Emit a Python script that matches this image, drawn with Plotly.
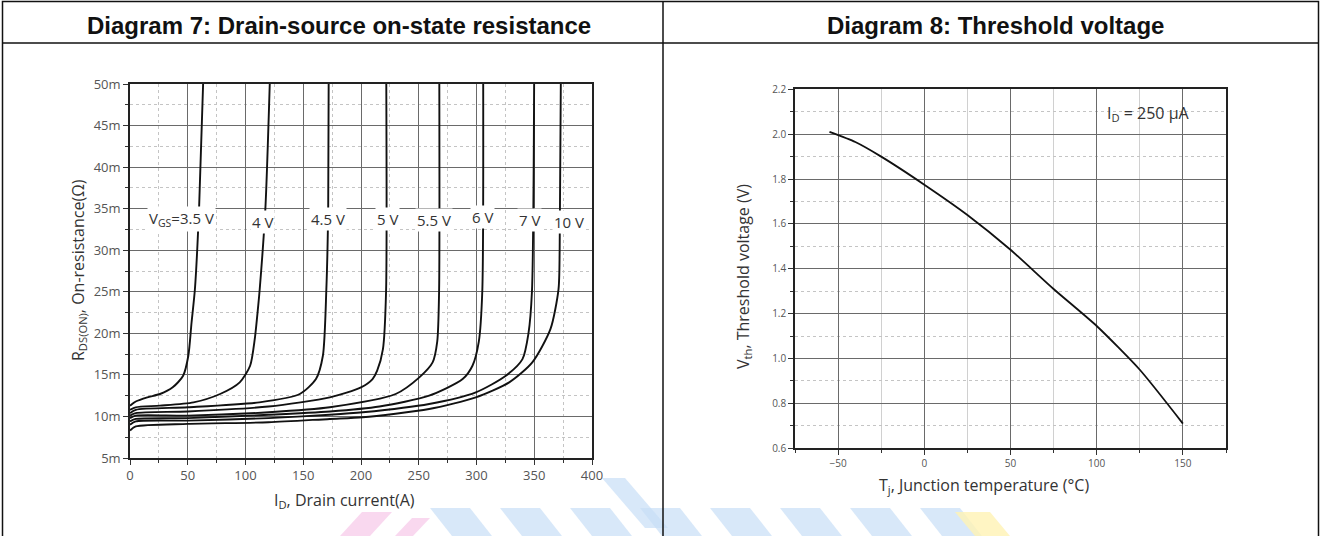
import plotly.graph_objects as go

W, H = 1320, 536

# ---------------- Diagram 7 data (I_D in A, R_DS(on) in mOhm) ----------------
I_35 = [0, 5, 15, 26, 37, 46, 50.5, 53.3, 56.2, 59.8, 63.3]
R_35 = [11.3, 11.8, 12.3, 12.7, 13.5, 14.9, 17.3, 21.3, 25.3, 35, 50]

I_40 = [0, 5, 26, 55, 78, 95, 104, 108, 111, 112.3, 117.2, 121]
R_40 = [10.8, 11.1, 11.3, 11.7, 12.7, 14.1, 16.1, 19.3, 23.3, 25.3, 35, 50]

I_45 = [0, 5, 50, 112, 147, 161, 167, 170, 171.6, 172]
R_45 = [10.4, 10.8, 11.1, 11.7, 12.7, 14.5, 17.3, 25.3, 35, 50]

I_50 = [0, 5, 50, 120, 173, 200, 210, 214, 219, 221.7, 221.9]
R_50 = [10.1, 10.4, 10.6, 11.2, 12.3, 13.5, 14.5, 15.5, 18.1, 25, 50]

I_55 = [0, 5, 50, 120, 173, 230, 250.5, 262, 266, 267.6, 267.8]
R_55 = [9.8, 10.1, 10.1, 10.5, 11.1, 12.7, 14.7, 16.5, 19, 25, 50]

I_60 = [0, 5, 50, 120, 173, 216, 259, 288, 296.5, 302, 305, 305.8]
R_60 = [9.4, 9.7, 9.8, 10.2, 10.6, 11.2, 12.5, 14.5, 16.1, 19, 25, 50]

I_70 = [0, 5, 50, 120, 173, 201.5, 259, 299.4, 325.4, 339.8, 345, 348, 349.9]
R_70 = [9.0, 9.4, 9.5, 9.8, 10.2, 10.5, 11.5, 12.9, 14.9, 16.9, 20, 25, 50]

I_100 = [0, 5, 50, 120, 173, 201.5, 259, 299.4, 328.3, 348.3, 364, 371, 372, 373]
R_100 = [8.3, 8.8, 9.1, 9.3, 9.7, 9.9, 10.9, 12.3, 14.1, 16.5, 20.5, 25.3, 30, 50]

vgs_labels = ["V<sub>GS</sub>=3.5 V", "4 V", "4.5 V", "5 V", "5.5 V", "6 V", "7 V", "10 V"]
label_I = [44.5, 115, 171, 222.9, 263.5, 305.2, 345.6, 380]
label_R = [33.7, 33.4, 33.8, 33.8, 33.6, 34.0, 33.6, 33.4]

# ---------------- Diagram 8 data ----------------
Tj = [-55, -40, -25, 0, 25, 50, 75, 100, 125, 150]
Vth = [2.01, 1.965, 1.90, 1.775, 1.64, 1.485, 1.31, 1.145, 0.95, 0.71]

FONT = "Open Sans"

fig = go.Figure()

curves = [(I_35, R_35), (I_40, R_40), (I_45, R_45), (I_50, R_50),
          (I_55, R_55), (I_60, R_60), (I_70, R_70), (I_100, R_100)]
for (ix, ry) in curves:
    fig.add_trace(go.Scatter(x=ix, y=ry, mode="lines", xaxis="x", yaxis="y",
                             line=dict(color="#111", width=1.9, shape="spline", smoothing=0.7),
                             showlegend=False, hoverinfo="skip"))

fig.add_trace(go.Scatter(x=Tj, y=Vth, mode="lines", xaxis="x2", yaxis="y2",
                         line=dict(color="#111", width=1.8, shape="spline", smoothing=0.6),
                         showlegend=False, hoverinfo="skip"))


def px(x):
    return x / W


def py(y):
    return 1 - y / H


major = "#6a6a6a"
minorc = "#c4c4c4"
tickf = dict(family=FONT, size=13, color="#555")
tickf2 = dict(family=FONT, size=10, color="#555")

common = dict(showgrid=True, gridcolor=major, gridwidth=1.3,
              ticks="outside", ticklen=5, tickcolor="#333",
              showline=True, linecolor="#222", linewidth=1.6, mirror=True,
              zeroline=False, automargin=False, fixedrange=True)

fig.update_layout(
    width=W, height=H,
    margin=dict(l=0, r=0, t=0, b=0, pad=0, autoexpand=False),
    paper_bgcolor="white", plot_bgcolor="white",
    showlegend=False,
    xaxis=dict(domain=[px(130), px(592)], range=[0, 400], tick0=0, dtick=50,
               minor=dict(dtick=25, showgrid=True, gridcolor=minorc, griddash="dot",
                          ticks="outside", ticklen=3, tickcolor="#333"),
               tickfont=tickf, anchor="y", **common),
    yaxis=dict(domain=[py(458), py(84)], range=[5, 50], tick0=5, dtick=5, ticksuffix="m",
               minor=dict(dtick=2.5, showgrid=True, gridcolor=minorc, griddash="dot",
                          ticks="outside", ticklen=3, tickcolor="#333"),
               tickfont=tickf, anchor="x", **common),
    xaxis2=dict(domain=[px(795), px(1226)], range=[-75, 175], tick0=-50, dtick=50,
                minor=dict(dtick=25, showgrid=True, gridcolor="#d0d0d0",
                           ticks="outside", ticklen=3, tickcolor="#333"),
                tickfont=tickf2, anchor="y2", **common),
    yaxis2=dict(domain=[py(448.3), py(89.3)], range=[0.6, 2.2], tick0=0.6, dtick=0.2,
                tickformat=".1f",
                minor=dict(dtick=0.1, showgrid=True, gridcolor=minorc, griddash="dot",
                           ticks="outside", ticklen=3, tickcolor="#333"),
                tickfont=tickf2, anchor="x2", **common),
)

ann = []


def pann(text, x, y, font, angle=0):
    return dict(text=text, x=px(x), y=py(y), xref="paper", yref="paper",
                xanchor="center", yanchor="middle", showarrow=False,
                textangle=angle, font=font)


# header titles
hf = dict(family="Liberation Sans", size=24, color="#111")
ann.append(pann("<b>Diagram 7: Drain-source on-state resistance</b>", 339, 25, hf))
ann.append(pann("<b>Diagram 8: Threshold voltage</b>", 995, 25, hf))
# axis titles
atf = dict(family=FONT, size=16, color="#333")
ann.append(pann("R<sub>DS(ON)</sub>, On-resistance(Ω)", 78, 270, atf, -90))
ann.append(pann("I<sub>D</sub>, Drain current(A)", 344, 500, atf))
ann.append(pann("V<sub>th</sub>, Threshold voltage (V)", 743, 277, atf, -90))
ann.append(pann("T<sub>j</sub>, Junction temperature (°C)", 984, 485, atf))
# curve labels
for t, xi, yi in zip(vgs_labels, label_I, label_R):
    ann.append(dict(text=t, x=xi, y=yi, xref="x", yref="y", showarrow=False,
                    xanchor="center", yanchor="middle",
                    bgcolor="white", borderpad=1,
                    font=dict(family=FONT, size=15, color="#333")))
ann.append(dict(text="I<sub>D</sub> = 250 µA", x=129.8, y=2.094, xref="x2", yref="y2",
                xanchor="center", yanchor="middle",
                showarrow=False, font=dict(family=FONT, size=16, color="#333")))

shapes = []


def poly(pts, color):
    d = "M " + " L ".join(f"{px(a):.5f},{py(b):.5f}" for a, b in pts) + " Z"
    return dict(type="path", xref="paper", yref="paper", path=d,
                fillcolor=color, line=dict(width=0), layer="below")


# faint watermark fragments at the bottom edge
pink = "rgba(247,200,232,0.7)"
blue = "rgba(200,222,247,0.7)"
yellow = "rgba(255,243,180,0.8)"
shapes.append(poly([(340, 536), (362, 512), (392, 512), (370, 536)], pink))
shapes.append(poly([(395, 536), (412, 518), (430, 518), (413, 536)], pink))
for x0 in [430, 500, 570, 640, 710, 780, 850, 920]:
    shapes.append(poly([(x0, 508), (x0 + 40, 508), (x0 + 62, 536), (x0 + 22, 536)], blue))
shapes.append(poly([(602, 478), (625, 478), (668, 528), (645, 528)], blue))
shapes.append(poly([(955, 512), (990, 512), (1010, 536), (975, 536)], yellow))

# table frame
shapes.append(dict(type="rect", xref="paper", yref="paper", x0=px(2.5), x1=px(1318.5),
                   y0=py(545), y1=py(1.5), line=dict(color="#111", width=1.5)))
shapes.append(dict(type="line", xref="paper", yref="paper", x0=px(2.5), x1=px(1318.5),
                   y0=py(43), y1=py(43), line=dict(color="#111", width=1.5)))
shapes.append(dict(type="line", xref="paper", yref="paper", x0=px(663), x1=px(663),
                   y0=py(1.5), y1=py(545), line=dict(color="#111", width=1.5)))

fig.update_layout(annotations=ann, shapes=shapes)

fig.write_html("out.html", config={"displayModeBar": False},
               post_script="document.body.style.margin='0';document.body.style.overflow='hidden';")
